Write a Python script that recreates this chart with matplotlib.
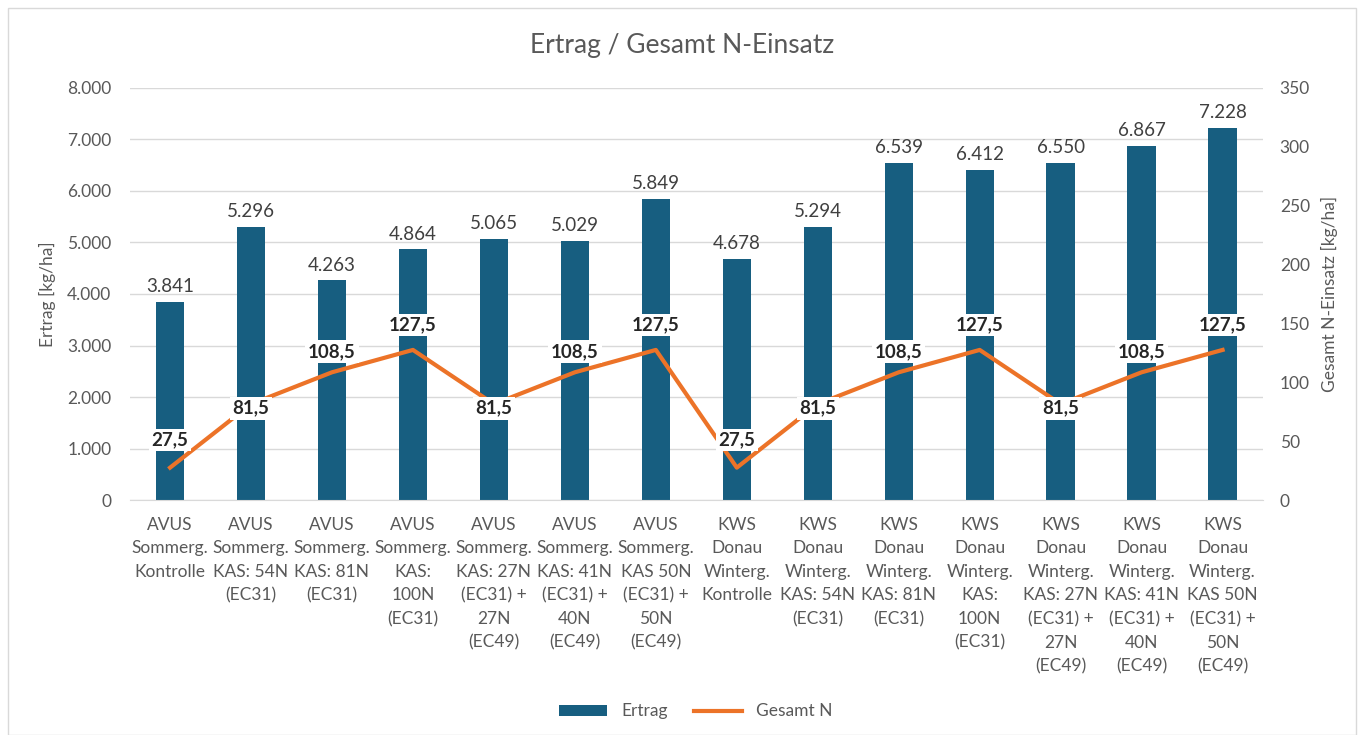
import numpy as np
import matplotlib
matplotlib.use('Agg')
import matplotlib.pyplot as plt
from matplotlib.patches import Rectangle

# Daten
kategorien = [
    "AVUS\nSommerg.\nKontrolle",
    "AVUS\nSommerg.\nKAS: 54N\n(EC31)",
    "AVUS\nSommerg.\nKAS: 81N\n(EC31)",
    "AVUS\nSommerg.\nKAS:\n100N\n(EC31)",
    "AVUS\nSommerg.\nKAS: 27N\n(EC31) +\n27N\n(EC49)",
    "AVUS\nSommerg.\nKAS: 41N\n(EC31) +\n40N\n(EC49)",
    "AVUS\nSommerg.\nKAS 50N\n(EC31) +\n50N\n(EC49)",
    "KWS\nDonau\nWinterg.\nKontrolle",
    "KWS\nDonau\nWinterg.\nKAS: 54N\n(EC31)",
    "KWS\nDonau\nWinterg.\nKAS: 81N\n(EC31)",
    "KWS\nDonau\nWinterg.\nKAS:\n100N\n(EC31)",
    "KWS\nDonau\nWinterg.\nKAS: 27N\n(EC31) +\n27N\n(EC49)",
    "KWS\nDonau\nWinterg.\nKAS: 41N\n(EC31) +\n40N\n(EC49)",
    "KWS\nDonau\nWinterg.\nKAS 50N\n(EC31) +\n50N\n(EC49)",
]
ertrag = [3841, 5296, 4263, 4864, 5065, 5029, 5849, 4678, 5294, 6539, 6412, 6550, 6867, 7228]
gesamt_n = [27.5, 81.5, 108.5, 127.5, 81.5, 108.5, 127.5, 27.5, 81.5, 108.5, 127.5, 81.5, 108.5, 127.5]

# Farben
BAR_COLOR = '#175e80'
LINE_COLOR = '#ec7328'
TEXT_COLOR = '#595959'
GRID_COLOR = '#d9d9d9'

plt.rcParams['font.family'] = ['Lato', 'DejaVu Sans']

fig = plt.figure(figsize=(13.64, 7.35), dpi=100)
fig.patches.append(Rectangle((8 / 1364, 0), 1348 / 1364, 727 / 735, transform=fig.transFigure,
                             fill=False, edgecolor='#d9d9d9', linewidth=1.0))

ax = fig.add_axes([0.095, 0.3197, 0.831, 0.5606])
ax2 = ax.twinx()

x = np.arange(len(kategorien))
bars = ax.bar(x, ertrag, width=0.35, color=BAR_COLOR, zorder=2, label='Ertrag')
ax.set_ylim(0, 8000)
ax.set_xlim(-0.5, len(kategorien) - 0.5)
ax.set_yticks(np.arange(0, 8001, 1000))
ax.set_yticklabels([f"{v:,}".replace(",", ".") for v in range(0, 8001, 1000)])
ax.yaxis.grid(True, color=GRID_COLOR, linewidth=1, zorder=0)
ax.set_axisbelow(True)
ax.set_xticks(x)
ax.set_xticklabels(kategorien, fontsize=12.5, color=TEXT_COLOR, linespacing=1.58)
ax.set_ylabel("Ertrag [kg/ha]", fontsize=12.5, color=TEXT_COLOR, labelpad=8)

for s in ['top', 'right', 'left']:
    ax.spines[s].set_visible(False)
    ax2.spines[s].set_visible(False)
ax.spines['bottom'].set_color(GRID_COLOR)
ax2.spines['bottom'].set_visible(False)
ax.tick_params(axis='y', length=0, labelsize=12.5, colors=TEXT_COLOR, pad=13)
ax.tick_params(axis='x', length=0, colors=TEXT_COLOR, pad=12)

for xi, v in zip(x, ertrag):
    ax.annotate(f"{v:,}".replace(",", "."), (xi, v), xytext=(0, 5), textcoords='offset points',
                ha='center', va='bottom', fontsize=13.5, color='#404040')

line, = ax2.plot(x, gesamt_n, color=LINE_COLOR, linewidth=3, zorder=3, label='Gesamt N',
                 solid_joinstyle='round')
ax2.set_ylim(0, 350)
ax2.set_yticks(np.arange(0, 351, 50))
ax2.tick_params(axis='y', length=0, labelsize=12.5, colors=TEXT_COLOR, pad=12)
ax2.set_ylabel("Gesamt N-Einsatz [kg/ha]", fontsize=12.5, color=TEXT_COLOR, labelpad=8)
ax.set_zorder(1)
ax2.set_zorder(2)

# Beschriftung der Linie
label_offsets = {27.5: 20, 81.5: -3, 108.5: 15, 127.5: 18}
for xi, v in zip(x, gesamt_n):
    ax2.annotate(f"{v:.1f}".replace(".", ","), (xi, v), xytext=(0, label_offsets[v]),
                 textcoords='offset points', ha='center', va='center', fontsize=13.5,
                 fontweight='bold', color='#262626', zorder=5,
                 bbox=dict(boxstyle='square,pad=0.15', fc='white', ec='none'))

fig.suptitle("Ertrag / Gesamt N-Einsatz", fontsize=19, color=TEXT_COLOR, y=0.955)

fig.legend(handles=[bars, line], labels=['Ertrag', 'Gesamt N'], loc='lower center',
           bbox_to_anchor=(0.51, 0.0), ncol=2, frameon=False, fontsize=12.5,
           labelcolor=TEXT_COLOR, handlelength=2.8, handleheight=0.6, columnspacing=1.5)

fig.savefig('out.png', dpi=100)
